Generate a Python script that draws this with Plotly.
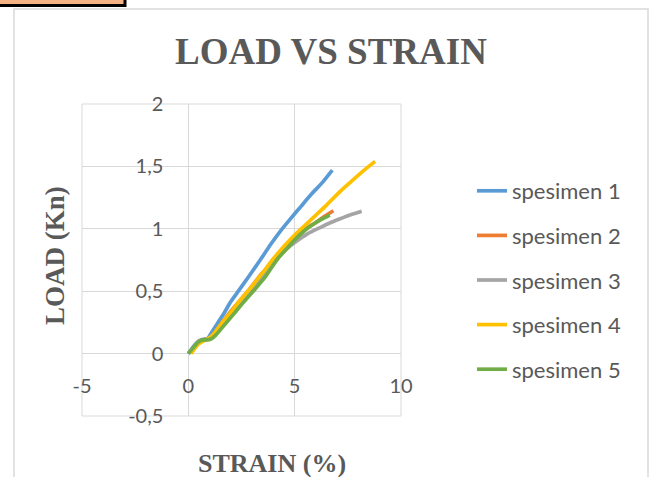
import plotly.graph_objects as go

# ---- data ----
names = ["spesimen 1", "spesimen 2", "spesimen 3", "spesimen 4", "spesimen 5"]
colors = ["#5B9BD5", "#ED7D31", "#A5A5A5", "#FFC000", "#70AD47"]

s1_x = [0, 0.25, 0.5, 0.7, 0.9, 1.1, 1.4, 1.7, 1.97, 2.35, 2.85, 3.38, 3.85, 4.32, 4.8, 5.3, 5.8, 6.3, 6.77]
s1_y = [0, 0.06, 0.10, 0.115, 0.12, 0.17, 0.25, 0.33, 0.41, 0.50, 0.62, 0.75, 0.87, 0.98, 1.08, 1.18, 1.28, 1.37, 1.47]

s2_x = [0, 0.25, 0.5, 0.7, 0.95, 1.2, 1.6, 2.0, 2.4, 2.85, 3.4, 4.0, 4.5, 5.0, 5.5, 6.0, 6.4, 6.82]
s2_y = [0, 0.05, 0.10, 0.11, 0.12, 0.16, 0.25, 0.34, 0.42, 0.51, 0.63, 0.74, 0.85, 0.94, 1.00, 1.05, 1.10, 1.145]

s3_x = [0, 0.25, 0.5, 0.7, 0.95, 1.2, 1.6, 2.0, 2.5, 3.0, 3.5, 4.0, 4.5, 5.0, 5.6, 6.2, 6.7, 7.14, 7.6, 8.15]
s3_y = [0, 0.05, 0.10, 0.11, 0.12, 0.15, 0.24, 0.32, 0.42, 0.52, 0.62, 0.72, 0.82, 0.89, 0.96, 1.01, 1.05, 1.08, 1.11, 1.14]

s4_x = [0.12, 0.3, 0.5, 0.7, 0.95, 1.2, 1.6, 2.0, 2.4, 2.9, 3.5, 4.0, 4.5, 5.0, 5.5, 6.0, 6.5, 7.14, 7.6, 8.2, 8.78]
s4_y = [0, 0.04, 0.08, 0.10, 0.12, 0.16, 0.25, 0.33, 0.42, 0.52, 0.65, 0.76, 0.86, 0.95, 1.03, 1.11, 1.19, 1.30, 1.37, 1.46, 1.54]

s5_x = [0, 0.2, 0.45, 0.65, 0.9, 1.1, 1.3, 1.6, 2.0, 2.44, 3.05, 3.6, 4.2, 4.79, 5.0, 5.5, 6.0, 6.3, 6.65]
s5_y = [0, 0.04, 0.09, 0.11, 0.11, 0.12, 0.15, 0.21, 0.29, 0.38, 0.50, 0.61, 0.76, 0.87, 0.91, 0.99, 1.05, 1.08, 1.11]

series_x = [s1_x, s2_x, s3_x, s4_x, s5_x]
series_y = [s1_y, s2_y, s3_y, s4_y, s5_y]

x_tickvals = [-5, 0, 5, 10]
x_ticktext = ["-5", "0", "5", "10"]
y_tickvals = [-0.5, 0, 0.5, 1, 1.5, 2]
y_ticktext = ["-0,5", "0", "0,5", "1", "1,5", "2"]

title_text = "LOAD VS STRAIN"
x_title = "STRAIN (%)"
y_title = "LOAD (Kn)"

# ---- figure ----
W, H = 652, 477
L, R, T, B = 82, 401, 104, 416  # plot area in px
pw, ph = R - L, B - T


def px_x(v):
    return (v - L) / pw


def px_y(v):
    return (B - v) / ph


fig = go.Figure()
for i in range(5):
    fig.add_trace(go.Scatter(
        x=series_x[i], y=series_y[i], mode="lines", name=names[i],
        legendgroup=f"g{i}",
        line=dict(color=colors[i], width=3.7, shape="spline", smoothing=0.5),
    ))

gray = "#595959"
grid = "#d9d9d9"
tick_font = dict(family="Lato", size=20, color=gray)
serif_bold = "Liberation Serif"

fig.update_layout(
    width=W, height=H, autosize=False,
    margin=dict(l=L, r=W - R, t=T, b=H - B, pad=0),
    paper_bgcolor="white", plot_bgcolor="white",
    showlegend=True,
    legend=dict(
        x=px_x(472), y=px_y(170), xanchor="left", yanchor="top",
        font=dict(family="Lato", size=22, color=gray),
        traceorder="grouped", tracegroupgap=13,
        bgcolor="rgba(0,0,0,0)",
    ),
    title=dict(
        text=f"<b>{title_text}</b>", x=331 / W, xanchor="center",
        y=1 - 51 / H, yanchor="middle",
        font=dict(family=serif_bold, size=37, color=gray),
    ),
    xaxis=dict(
        range=[-5, 10], tickvals=x_tickvals, ticktext=x_ticktext,
        anchor="free", position=0.2, side="bottom",
        ticks="outside", ticklen=14, tickcolor="rgba(0,0,0,0)",
        showgrid=True, gridcolor=grid, gridwidth=1,
        zeroline=True, zerolinecolor=grid, zerolinewidth=1.5,
        showline=False, tickfont=tick_font, automargin=False, fixedrange=True,
    ),
    yaxis=dict(
        range=[-0.5, 2], tickvals=y_tickvals, ticktext=y_ticktext,
        anchor="free", position=1 / 3, side="left",
        ticks="outside", ticklen=21, tickcolor="rgba(0,0,0,0)",
        showgrid=True, gridcolor=grid, gridwidth=1,
        zeroline=True, zerolinecolor=grid, zerolinewidth=1.5,
        showline=False, tickfont=tick_font, automargin=False, fixedrange=True,
    ),
    annotations=[
        dict(text=f"<b>{y_title}</b>", textangle=-90, xref="paper", yref="paper",
             x=px_x(55), y=px_y(256), xanchor="center", yanchor="middle",
             showarrow=False, font=dict(family=serif_bold, size=27, color=gray)),
        dict(text=f"<b>{x_title}</b>", xref="paper", yref="paper",
             x=px_x(272), y=px_y(463), xanchor="center", yanchor="middle",
             showarrow=False, font=dict(family=serif_bold, size=26, color=gray)),
    ],
    shapes=[
        # plot-area frame
        dict(type="rect", xref="paper", yref="paper", x0=0, x1=1, y0=0, y1=1,
             line=dict(color=grid, width=1), layer="below"),
        # outer chart border
        dict(type="rect", xref="paper", yref="paper",
             x0=px_x(14), x1=px_x(648), y0=px_y(495), y1=px_y(9),
             line=dict(color=grid, width=1.5), layer="below"),
        # orange box at the top-left corner
        dict(type="rect", xref="paper", yref="paper",
             x0=px_x(-6), x1=px_x(125), y0=px_y(5.5), y1=px_y(-6),
             fillcolor="#F4B183", line=dict(color="black", width=3), layer="above"),
    ],
)

fig.write_html(
    "out.html",
    config={"displayModeBar": False, "staticPlot": True},
    post_script="document.body.style.margin='0';document.body.style.overflow='hidden';",
)
